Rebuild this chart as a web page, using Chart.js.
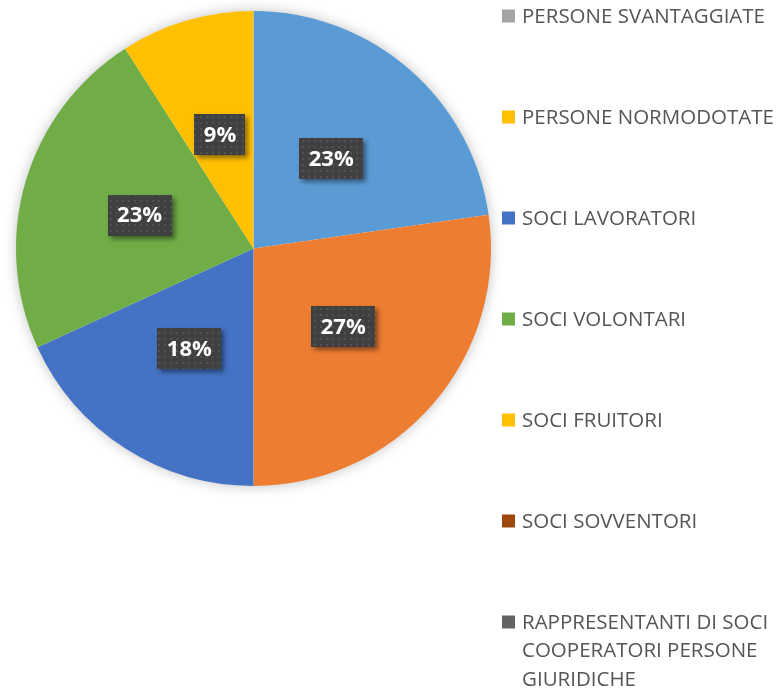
<!DOCTYPE html>
<html>
<head>
<meta charset="utf-8">
<script src="https://cdn.jsdelivr.net/npm/chart.js@4.4.1/dist/chart.umd.min.js"></script>
<style>
  html, body { margin: 0; padding: 0; background: #fff; }
  #wrap { width: 776px; height: 689px; }
</style>
</head>
<body>
<div id="wrap"><canvas id="pie" width="776" height="689"></canvas></div>
<script>
const categories = [
  'PERSONE SVANTAGGIATE',
  'PERSONE NORMODOTATE',
  'SOCI LAVORATORI',
  'SOCI VOLONTARI',
  'SOCI FRUITORI',
  'SOCI SOVVENTORI',
  'RAPPRESENTANTI DI SOCI COOPERATORI PERSONE GIURIDICHE'
];
const values = [5, 6, 4, 5, 2, 0, 0];
const sliceColors  = ['#5B9BD5', '#ED7D31', '#4472C4', '#70AD47', '#FFC000', '#9E480E', '#636363'];
const legendColors = ['#A5A5A5', '#FFC000', '#4472C4', '#70AD47', '#FFC000', '#9E480E', '#636363'];

// dotted dark fill used behind the percentage labels
function dotPattern(ctx) {
  const p = document.createElement('canvas');
  p.width = 6; p.height = 6;
  const pc = p.getContext('2d');
  pc.fillStyle = '#404040';
  pc.fillRect(0, 0, 6, 6);
  pc.fillStyle = '#525252';
  pc.fillRect(2, 2, 2, 2);
  return ctx.createPattern(p, 'repeat');
}

// soft glow round the whole pie
const pieShadow = {
  id: 'pieShadow',
  beforeDatasetsDraw(chart) {
    const arc = chart.getDatasetMeta(0).data[0];
    const ctx = chart.ctx;
    ctx.save();
    ctx.shadowColor = 'rgba(0,0,0,0.28)';
    ctx.shadowBlur = 14;
    ctx.fillStyle = '#ffffff';
    ctx.beginPath();
    ctx.arc(arc.x, arc.y, arc.outerRadius - 1, 0, Math.PI * 2);
    ctx.fill();
    ctx.restore();
  }
};

const pctLabels = {
  id: 'pctLabels',
  afterDatasetsDraw(chart) {
    const ctx = chart.ctx;
    const meta = chart.getDatasetMeta(0);
    const total = values.reduce((a, b) => a + b, 0);
    const fill = dotPattern(ctx);
    ctx.save();
    ctx.font = '700 22px "Open Sans"';
    ctx.textAlign = 'center';
    ctx.textBaseline = 'middle';
    meta.data.forEach((arc, i) => {
      if (!values[i]) return;
      const mid = (arc.startAngle + arc.endAngle) / 2;
      const r = arc.outerRadius * 0.5;
      const x = arc.x + Math.cos(mid) * r;
      const y = arc.y + Math.sin(mid) * r;
      const txt = Math.round(values[i] / total * 100) + '%';
      const w = ctx.measureText(txt).width + 19;
      const h = 41;
      ctx.save();
      ctx.shadowColor = 'rgba(0,0,0,0.45)';
      ctx.shadowBlur = 5;
      ctx.shadowOffsetX = 3;
      ctx.shadowOffsetY = 3;
      ctx.fillStyle = fill;
      ctx.fillRect(Math.round(x - w / 2), Math.round(y - h / 2), Math.round(w), h);
      ctx.restore();
      ctx.fillStyle = '#ffffff';
      ctx.fillText(txt, x, y + 1);
    });
    ctx.restore();
  }
};

// legend as in the source: one item every ~101px down the right side
const sideLegend = {
  id: 'sideLegend',
  afterDraw(chart) {
    const ctx = chart.ctx;
    ctx.save();
    ctx.font = '20.5px "Open Sans"';
    ctx.textBaseline = 'middle';
    const maxW = 258;
    categories.forEach((name, i) => {
      const y0 = 16 + i * 101;
      ctx.fillStyle = legendColors[i];
      ctx.fillRect(502, y0 - 6.5, 13, 13);
      // word wrap
      const words = name.split(' ');
      const lines = [];
      let cur = '';
      words.forEach(w => {
        const t = cur ? cur + ' ' + w : w;
        if (ctx.measureText(t).width > maxW && cur) { lines.push(cur); cur = w; }
        else cur = t;
      });
      lines.push(cur);
      ctx.fillStyle = '#555555';
      lines.forEach((ln, k) => ctx.fillText(ln, 522, y0 + 1 + k * 28.5));
    });
    ctx.restore();
  }
};

new Chart(document.getElementById('pie'), {
  type: 'pie',
  data: {
    labels: categories,
    datasets: [{
      data: values,
      backgroundColor: sliceColors,
      borderWidth: 0
    }]
  },
  options: {
    responsive: false,
    animation: false,
    layout: { padding: { left: 16, top: 11, right: 285, bottom: 203 } },
    plugins: {
      legend: { display: false },
      tooltip: { enabled: false }
    }
  },
  plugins: [pieShadow, pctLabels, sideLegend]
});
</script>
</body>
</html>
